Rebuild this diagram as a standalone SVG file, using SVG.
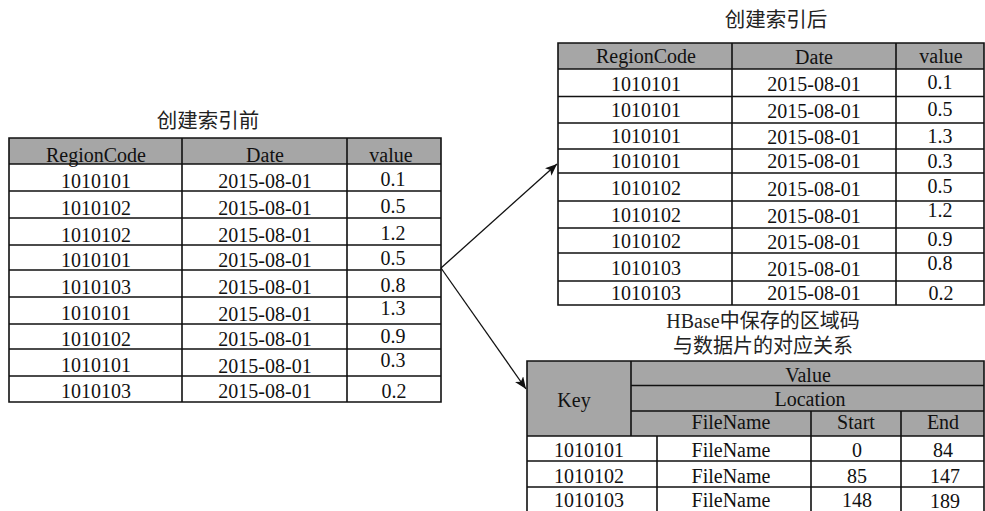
<svg xmlns="http://www.w3.org/2000/svg" width="985" height="511" viewBox="0 0 985 511">
<style>
  .t{font-family:"Liberation Serif","Noto Sans CJK SC",serif;font-size:20px;fill:#111;text-anchor:middle}
  .cap{font-family:"Noto Sans CJK SC","Liberation Sans",sans-serif;font-size:20.5px;fill:#222;text-anchor:middle}
  .hb{font-family:"Liberation Serif","Noto Sans CJK SC",serif;font-size:20px;fill:#222;text-anchor:middle}
  .hd{fill:#a6a6a6}
  .ln{stroke:#111;stroke-width:1.6;fill:none}
  .ar{stroke:#111;stroke-width:1.3;fill:none}
</style>
<defs>
  <marker id="ah" viewBox="0 0 12 10" refX="12" refY="5" markerWidth="12" markerHeight="10" markerUnits="userSpaceOnUse" orient="auto">
    <path d="M0,0 L12,5 L0,10 L3,5 Z" fill="#111"/>
  </marker>
</defs>
<rect width="985" height="511" fill="#fff"/>

<g id="before">
  <text class="cap" x="208" y="128">创建索引前</text>
  <rect class="hd" x="9" y="138" width="432" height="26"/>
  <path class="ln" d="M9,138H441V402H9Z M182,138V402 M347,138V402 M9,164H441 M9,191H441 M9,218H441 M9,245H441 M9,270H441 M9,297H441 M9,324H441 M9,349H441 M9,376H441"/>
  <text class="t" x="96" y="161.5">RegionCode</text><text class="t" x="265" y="161.5">Date</text><text class="t" x="391" y="161.5">value</text>
  <text class="t" x="96" y="188">1010101</text><text class="t" x="265" y="188">2015-08-01</text><text class="t" x="393" y="186">0.1</text>
  <text class="t" x="96" y="215">1010102</text><text class="t" x="265" y="215">2015-08-01</text><text class="t" x="393" y="213">0.5</text>
  <text class="t" x="96" y="242">1010102</text><text class="t" x="265" y="242">2015-08-01</text><text class="t" x="393" y="240">1.2</text>
  <text class="t" x="96" y="267">1010101</text><text class="t" x="265" y="267">2015-08-01</text><text class="t" x="393" y="265">0.5</text>
  <text class="t" x="96" y="294">1010103</text><text class="t" x="265" y="294">2015-08-01</text><text class="t" x="393" y="292">0.8</text>
  <text class="t" x="96" y="320">1010101</text><text class="t" x="265" y="321">2015-08-01</text><text class="t" x="393" y="315">1.3</text>
  <text class="t" x="96" y="346">1010102</text><text class="t" x="265" y="346">2015-08-01</text><text class="t" x="393" y="343">0.9</text>
  <text class="t" x="96" y="372">1010101</text><text class="t" x="265" y="373">2015-08-01</text><text class="t" x="393" y="367">0.3</text>
  <text class="t" x="96" y="398">1010103</text><text class="t" x="265" y="398">2015-08-01</text><text class="t" x="394" y="398">0.2</text>
</g>

<g id="after">
  <text class="cap" x="776" y="27">创建索引后</text>
  <rect class="hd" x="558" y="43" width="426" height="26"/>
  <path class="ln" d="M558,43H984V305H558Z M732,43V305 M896,43V305 M558,69H984 M558,96.5H984 M558,123H984 M558,149H984 M558,173H984 M558,201H984 M558,228H984 M558,253H984 M558,281H984"/>
  <text class="t" x="646" y="63">RegionCode</text><text class="t" x="814" y="64">Date</text><text class="t" x="941" y="63">value</text>
  <text class="t" x="646" y="90.5">1010101</text><text class="t" x="814" y="91">2015-08-01</text><text class="t" x="940" y="89">0.1</text>
  <text class="t" x="646" y="117">1010101</text><text class="t" x="814" y="117.5">2015-08-01</text><text class="t" x="940" y="116">0.5</text>
  <text class="t" x="646" y="143">1010101</text><text class="t" x="814" y="143.5">2015-08-01</text><text class="t" x="940" y="143">1.3</text>
  <text class="t" x="646" y="168">1010101</text><text class="t" x="814" y="168">2015-08-01</text><text class="t" x="940" y="168">0.3</text>
  <text class="t" x="646" y="195">1010102</text><text class="t" x="814" y="196">2015-08-01</text><text class="t" x="940" y="193">0.5</text>
  <text class="t" x="646" y="222">1010102</text><text class="t" x="814" y="223">2015-08-01</text><text class="t" x="940" y="217">1.2</text>
  <text class="t" x="646" y="248">1010102</text><text class="t" x="814" y="248.5">2015-08-01</text><text class="t" x="940" y="246">0.9</text>
  <text class="t" x="646" y="275">1010103</text><text class="t" x="814" y="275.5">2015-08-01</text><text class="t" x="940" y="270">0.8</text>
  <text class="t" x="646" y="300">1010103</text><text class="t" x="814" y="300">2015-08-01</text><text class="t" x="941" y="300">0.2</text>
</g>

<g id="hbase">
  <text class="hb" x="763" y="328">HBase中保存的区域码</text>
  <text class="hb" x="763" y="353">与数据片的对应关系</text>
  <rect class="hd" x="527" y="361" width="457" height="75"/>
  <path class="ln" d="M527,512V361H984V512 M631,361V436 M631,385.5H984 M631,411H984 M811,411V512 M901,411V512 M527,436H984 M657,436V512 M527,461H984 M527,487H984"/>
  <text class="t" x="574" y="407">Key</text>
  <text class="t" x="808" y="382">Value</text>
  <text class="t" x="810" y="406">Location</text>
  <text class="t" x="731" y="429">FileName</text><text class="t" x="856" y="429">Start</text><text class="t" x="943" y="429">End</text>
  <text class="t" x="589" y="456.5">1010101</text><text class="t" x="731" y="456.5">FileName</text><text class="t" x="857" y="456.5">0</text><text class="t" x="943" y="456.5">84</text>
  <text class="t" x="589" y="482.5">1010102</text><text class="t" x="731" y="482.5">FileName</text><text class="t" x="857" y="482.5">85</text><text class="t" x="945" y="482.5">147</text>
  <text class="t" x="589" y="506.5">1010103</text><text class="t" x="731" y="506.5">FileName</text><text class="t" x="857" y="506.5">148</text><text class="t" x="945" y="508">189</text>
</g>

<g id="connectors">
  <line class="ar" x1="441" y1="268" x2="557" y2="164" marker-end="url(#ah)"/>
  <line class="ar" x1="441" y1="268" x2="526" y2="389" marker-end="url(#ah)"/>
</g>
</svg>
